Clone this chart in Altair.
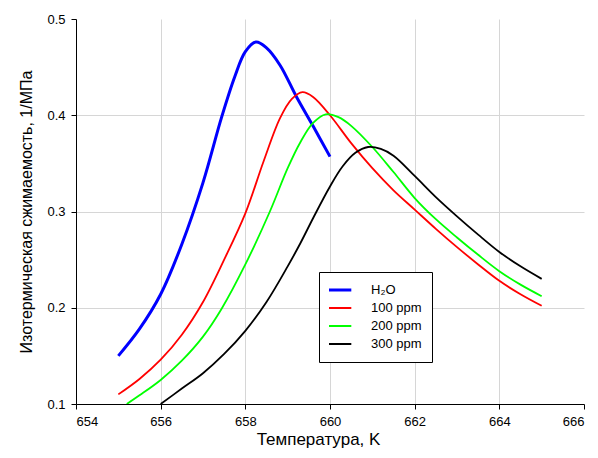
import altair as alt
import pandas as pd

# ---- data ----
series_names = ["H\u2082O", "100 ppm", "200 ppm", "300 ppm"]
series_colors = ["#0000ff", "#ff0000", "#00ff00", "#000000"]
series_widths = [3.0, 1.8, 1.8, 1.8]

t_h2o = [655.0, 655.5, 656.0, 656.5, 657.0, 657.44, 657.75, 658.0, 658.25, 658.5, 658.82, 659.21, 659.61, 660.0]
k_h2o = [0.150, 0.178, 0.214, 0.266, 0.330, 0.398, 0.440, 0.466, 0.476, 0.470, 0.452, 0.419, 0.388, 0.357]

t_100 = [655.0, 655.5, 656.0, 656.5, 657.0, 657.5, 658.0, 658.43, 658.82, 659.1, 659.35, 659.6, 660.0, 660.5,
         661.0, 661.5, 662.0, 662.5, 663.0, 663.5, 664.0, 664.5, 665.0]
k_100 = [0.110, 0.126, 0.146, 0.172, 0.206, 0.250, 0.298, 0.352, 0.397, 0.417, 0.424, 0.419, 0.400, 0.371,
         0.345, 0.322, 0.302, 0.282, 0.263, 0.245, 0.228, 0.214, 0.202]

t_200 = [655.2, 655.5, 656.0, 656.5, 657.0, 657.44, 658.0, 658.58, 659.0, 659.3, 659.6, 659.9, 660.2, 660.5,
         661.0, 661.5, 662.0, 662.5, 663.0, 663.5, 664.0, 664.5, 665.0]
k_200 = [0.100, 0.109, 0.125, 0.145, 0.170, 0.199, 0.245, 0.300, 0.345, 0.372, 0.392, 0.401, 0.398, 0.389,
         0.367, 0.341, 0.314, 0.292, 0.273, 0.255, 0.238, 0.224, 0.212]

t_300 = [656.0, 656.5, 657.0, 657.5, 658.0, 658.5, 659.0, 659.3, 659.6, 660.0, 660.3, 660.6, 660.9, 661.2,
         661.5, 662.0, 662.5, 663.0, 663.5, 664.0, 664.5, 665.0]
k_300 = [0.100, 0.116, 0.132, 0.152, 0.176, 0.206, 0.243, 0.267, 0.293, 0.326, 0.347, 0.361, 0.367, 0.365,
         0.358, 0.337, 0.315, 0.295, 0.276, 0.258, 0.243, 0.230]

x_ticks = [654, 656, 658, 660, 662, 664, 666]
y_ticks = [0.1, 0.2, 0.3, 0.4, 0.5]

rows = []
for name, w, ts, ks in zip(series_names, series_widths, [t_h2o, t_100, t_200, t_300], [k_h2o, k_100, k_200, k_300]):
    for t, k in zip(ts, ks):
        rows.append({"series": name, "w": w, "T": t, "K": k})
df = pd.DataFrame(rows)

FONT = "Liberation Sans"
grid_x = {"condition": {"test": "datum.value >= 666 || datum.value <= 654", "value": "transparent"}, "value": "#d6d6d6"}
grid_y = {"condition": {"test": "datum.value >= 0.5 || datum.value <= 0.1", "value": "transparent"}, "value": "#d6d6d6"}

legend = alt.Legend(
    title=None, orient="none", legendX=243, legendY=253,
    strokeColor="black", fillColor="white", padding=10,
    symbolType="stroke", symbolSize=1000, clipHeight=16, rowPadding=2,
    symbolStrokeWidth={"expr": "datum.value === '%s' ? %s : %s" % (series_names[0], series_widths[0], series_widths[1])},
    labelFont=FONT, labelFontSize=13, labelOffset=29, labelColor="black",
)

chart = alt.Chart(df).mark_line(interpolate="catmull-rom", clip=True).encode(
    x=alt.X("T:Q", scale=alt.Scale(domain=[654, 666], nice=False, zero=False),
            axis=alt.Axis(values=x_ticks, title="Температура, K", format="d",
                          gridColor=grid_x, titleX=242, titlePadding=3, titleFontSize=17)),
    y=alt.Y("K:Q", scale=alt.Scale(domain=[0.1, 0.5], nice=False, zero=False),
            axis=alt.Axis(values=y_ticks, format=".1f",
                          title="Изотермическая сжимаемость, 1/МПа",
                          gridColor=grid_y, titlePadding=12, titleFontSize=16)),
    color=alt.Color("series:N", scale=alt.Scale(domain=series_names, range=series_colors),
                    sort=series_names, legend=legend),
    strokeWidth=alt.StrokeWidth("w:Q", scale=None, legend=None),
    detail="series:N",
    order=alt.Order("T:Q"),
).properties(
    width=508, height=385,
    autosize=alt.AutoSizeParams(type="none"),
    padding={"left": 68, "top": 11, "right": 6, "bottom": 46},
).configure_view(stroke=None).configure_axis(
    domainColor="black", tickColor="black", tickSize=5, grid=True,
    labelFont=FONT, labelFontSize=13, labelColor="black", labelPadding=6,
    titleFont=FONT, titleFontWeight="normal", titleColor="black",
)

chart.save("out.html", embed_options={"renderer": "svg", "actions": False})
